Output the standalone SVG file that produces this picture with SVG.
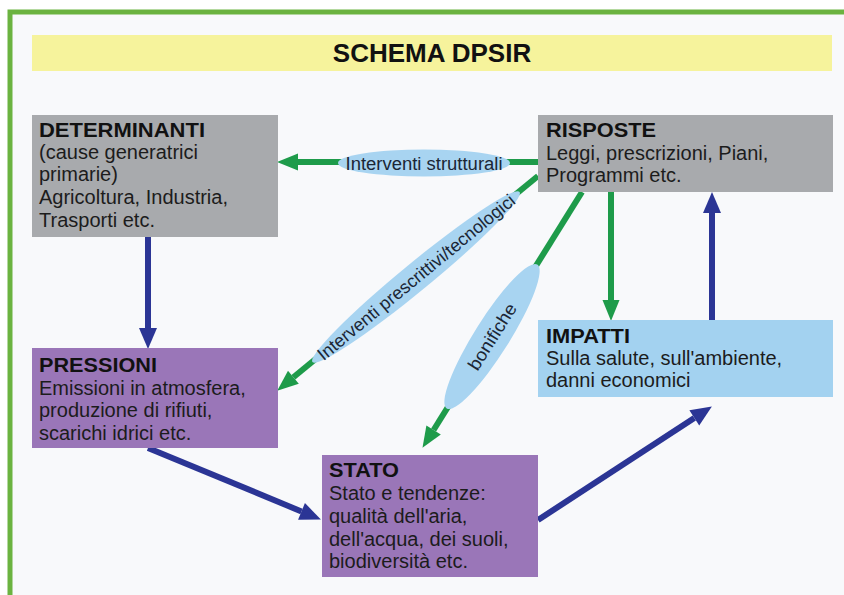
<svg xmlns="http://www.w3.org/2000/svg" width="844" height="595" viewBox="0 0 844 595">
<style>
text{font-family:"Liberation Sans",Arial,sans-serif;fill:#1c1c1c}
.h{font-weight:bold;font-size:20px;fill:#111}
.b{font-size:20px}
.lbl{font-size:18px;fill:#1b2635}
.bl{stroke:#2b3595;stroke-width:6;fill:none}
.gr{stroke:#1e9b4a;stroke-width:6;fill:none}
.ell{fill:#a8d4f1}
</style>
<defs>
<marker id="ab" markerUnits="userSpaceOnUse" markerWidth="22" markerHeight="20" refX="0" refY="9" orient="auto" overflow="visible">
<path d="M0,0 L21,9 L0,18 z" fill="#2b3595"/>
</marker>
<marker id="ag" markerUnits="userSpaceOnUse" markerWidth="22" markerHeight="20" refX="0" refY="8.5" orient="auto" overflow="visible">
<path d="M0,0 L21,8.5 L0,17 z" fill="#1e9b4a"/>
</marker>
</defs>
<rect x="0" y="0" width="844" height="595" fill="#ffffff"/>
<rect x="10" y="12" width="840" height="590" fill="#f8f9fb"/>
<path d="M10,595 L10,12 L844,12" fill="none" stroke="#6bb340" stroke-width="5"/>
<g id="title">
<rect x="32" y="35" width="800" height="36" fill="#f6f39c"/>
<text x="432" y="62" text-anchor="middle" style="font-weight:bold;font-size:26px;fill:#111">SCHEMA DPSIR</text>
</g>
<g id="connectors">
<line class="bl" x1="148" y1="237" x2="148" y2="328" marker-end="url(#ab)"/>
<line class="bl" x1="148" y1="448" x2="301.5" y2="511.4" marker-end="url(#ab)"/>
<line class="bl" x1="538" y1="520" x2="694.3" y2="417.9" marker-end="url(#ab)"/>
<line class="bl" x1="712" y1="320" x2="712" y2="213" marker-end="url(#ab)"/>
<line class="gr" x1="538" y1="162" x2="298" y2="162" marker-end="url(#ag)"/>
<line class="gr" x1="538" y1="176" x2="293.4" y2="377.3" marker-end="url(#ag)"/>
<line class="gr" x1="582" y1="192" x2="433.6" y2="430" marker-end="url(#ag)"/>
<line class="gr" x1="611" y1="192" x2="611" y2="300" marker-end="url(#ag)"/>
<g id="label-strutturali">
<ellipse class="ell" cx="424" cy="163" rx="86" ry="13.5"/>
<text class="lbl" x="424" y="169.5" text-anchor="middle" textLength="157" lengthAdjust="spacingAndGlyphs">Interventi strutturali</text>
</g>
<g id="label-prescrittivi" transform="translate(416,277) rotate(-39.4)">
<ellipse class="ell" cx="0" cy="0" rx="134" ry="14"/>
<text class="lbl" x="0" y="6.5" text-anchor="middle" textLength="250" lengthAdjust="spacingAndGlyphs">Interventi prescrittivi/tecnologici</text>
</g>
<g id="label-bonifiche" transform="translate(492,336.5) rotate(-57.8)">
<ellipse class="ell" cx="0" cy="0" rx="85" ry="17.5"/>
<text class="lbl" x="0" y="6.5" text-anchor="middle" textLength="75" lengthAdjust="spacingAndGlyphs">bonifiche</text>
</g>
</g>
<g id="determinanti">
<rect x="32" y="115" width="246" height="122" fill="#a8aaad"/>
<text class="h" x="39" y="137" textLength="166" lengthAdjust="spacingAndGlyphs">DETERMINANTI</text>
<text class="b" x="39" y="159">(cause generatrici</text>
<text class="b" x="39" y="181">primarie)</text>
<text class="b" x="39" y="204">Agricoltura, Industria,</text>
<text class="b" x="39" y="227">Trasporti etc.</text>
</g>
<g id="risposte">
<rect x="538" y="115" width="295" height="77" fill="#a8aaad"/>
<text class="h" x="546" y="137" textLength="110" lengthAdjust="spacingAndGlyphs">RISPOSTE</text>
<text class="b" x="546" y="160">Leggi, prescrizioni, Piani,</text>
<text class="b" x="546" y="182">Programmi etc.</text>
</g>
<g id="impatti">
<rect x="538" y="320" width="295" height="77" fill="#a3d2f0"/>
<text class="h" x="546" y="343" textLength="84" lengthAdjust="spacingAndGlyphs">IMPATTI</text>
<text class="b" x="546" y="365">Sulla salute, sull'ambiente,</text>
<text class="b" x="546" y="387">danni economici</text>
</g>
<g id="pressioni">
<rect x="32" y="348" width="246" height="100" fill="#9a76b8"/>
<text class="h" x="39" y="372" textLength="118" lengthAdjust="spacingAndGlyphs">PRESSIONI</text>
<text class="b" x="39" y="395">Emissioni in atmosfera,</text>
<text class="b" x="39" y="417">produzione di rifiuti,</text>
<text class="b" x="39" y="440">scarichi idrici etc.</text>
</g>
<g id="stato">
<rect x="322" y="455" width="216" height="122" fill="#9a76b8"/>
<text class="h" x="329" y="477" textLength="70" lengthAdjust="spacingAndGlyphs">STATO</text>
<text class="b" x="329" y="500">Stato e tendenze:</text>
<text class="b" x="329" y="523">qualità dell'aria,</text>
<text class="b" x="329" y="546">dell'acqua, dei suoli,</text>
<text class="b" x="329" y="568">biodiversità etc.</text>
</g>
</svg>
